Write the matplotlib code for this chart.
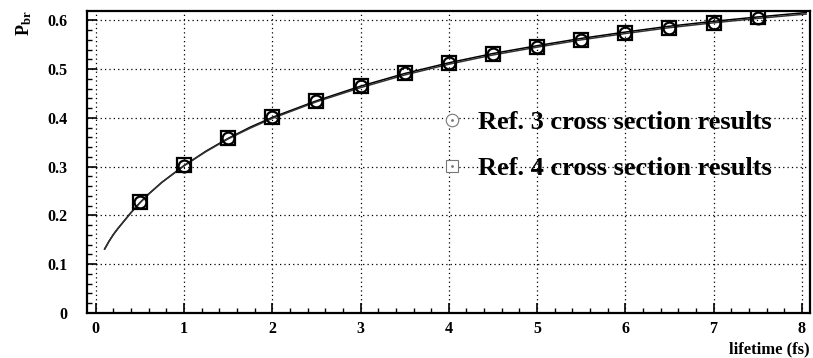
import numpy as np
from matplotlib import pyplot as plt
from matplotlib.lines import Line2D
from matplotlib.legend_handler import HandlerTuple
from matplotlib.ticker import MultipleLocator

plt.rcParams['font.family'] = 'Liberation Serif'
plt.rcParams['font.weight'] = 'bold'
plt.rcParams['mathtext.fontset'] = 'custom'
plt.rcParams['mathtext.rm'] = 'Liberation Serif:bold'
plt.rcParams['mathtext.it'] = 'Liberation Serif:bold'
plt.rcParams['mathtext.bf'] = 'Liberation Serif:bold'

# Data
lifetime = [0.5, 1.0, 1.5, 2.0, 2.5, 3.0, 3.5, 4.0, 4.5, 5.0, 5.5, 6.0, 6.5, 7.0, 7.5]
p_ref3 = [0.227, 0.302, 0.359, 0.401, 0.434, 0.465, 0.492, 0.512, 0.531, 0.545,
          0.559, 0.574, 0.584, 0.594, 0.605]
p_ref4 = [0.228, 0.303, 0.359, 0.402, 0.435, 0.466, 0.493, 0.513, 0.532, 0.546,
          0.560, 0.575, 0.585, 0.595, 0.606]

t_curve = [0.1, 0.15, 0.2, 0.25, 0.3, 0.4, 0.5, 0.6, 0.75, 1.0, 1.25, 1.5, 1.75, 2.0,
           2.5, 3.0, 3.5, 4.0, 4.5, 5.0, 5.5, 6.0, 6.5, 7.0, 7.5, 8.05]
fit_ref3 = [0.131, 0.147, 0.161, 0.173, 0.184, 0.206, 0.226, 0.244, 0.268, 0.302,
            0.332, 0.358, 0.381, 0.401, 0.435, 0.465, 0.491, 0.513, 0.532, 0.548,
            0.563, 0.576, 0.588, 0.598, 0.607, 0.616]
fit_ref4 = [0.131, 0.147, 0.161, 0.173, 0.184, 0.206, 0.226, 0.244, 0.268, 0.302,
            0.331, 0.357, 0.379, 0.399, 0.433, 0.462, 0.488, 0.510, 0.529, 0.545,
            0.560, 0.573, 0.585, 0.595, 0.604, 0.613]

fig = plt.figure(figsize=(8.13, 3.58), dpi=100)
ax = fig.add_axes([0.107, 0.126, 0.889, 0.843])

ax.plot(t_curve, fit_ref3, color='black', lw=1.1)
ax.plot(t_curve, fit_ref4, color='#333333', lw=1.1)
ax.plot(lifetime, p_ref4, ls='none', marker='s', ms=10, mfc='none', mec='black', mew=1.6)
ax.plot(lifetime, p_ref3, ls='none', marker='o', ms=8.5, mfc='none', mec='black', mew=1.6)

ax.set_xlim(-0.1, 8.09)
ax.set_ylim(0, 0.619)
ax.xaxis.set_minor_locator(MultipleLocator(0.2))
ax.yaxis.set_minor_locator(MultipleLocator(0.02))
ax.set_xticks(range(9))
ax.set_xticklabels([str(i) for i in range(9)])
ax.set_yticks([0, 0.1, 0.2, 0.3, 0.4, 0.5, 0.6])
ax.set_yticklabels(['0', '0.1', '0.2', '0.3', '0.4', '0.5', '0.6'])
ax.tick_params(which='major', direction='in', length=7, width=1.2, labelsize=11.5, pad=6)
ax.tick_params(axis='y', which='major', pad=14)
ax.tick_params(which='minor', direction='in', length=3.6, width=1.0)
ax.grid(True, which='major', color='black', ls=(0, (1, 2.5)), lw=0.9)
for s in ax.spines.values():
    s.set_linewidth(1.6)

# legend with grey markers with a dot inside
h3 = (Line2D([], [], ls='none', marker='o', ms=9, mfc='white', mec='#777777', mew=0.8),
      Line2D([], [], ls='none', marker='.', ms=2, color='#777777'))
h4 = (Line2D([], [], ls='none', marker='s', ms=9, mfc='white', mec='#777777', mew=0.8),
      Line2D([], [], ls='none', marker='.', ms=2, color='#777777'))
ax.legend([h3, h4], ['Ref. 3 cross section results', 'Ref. 4 cross section results'],
          handler_map={tuple: HandlerTuple(ndivide=1, pad=0)},
          loc='center left', bbox_to_anchor=(0.488, 0.555), frameon=False,
          prop={'family': 'Liberation Serif', 'size': 19, 'weight': 'bold'},
          handlelength=0.9, handletextpad=0.55, labelspacing=0.85,
          borderpad=0, borderaxespad=0)

fig.text(0.018, 0.97, r'$\mathrm{P_{br}}$', rotation=90, ha='left', va='top', fontsize=13)
fig.text(0.996, 0.003, 'lifetime (fs)', ha='right', va='bottom', fontsize=12, fontweight='bold')

plt.savefig('out.png', dpi=100)
